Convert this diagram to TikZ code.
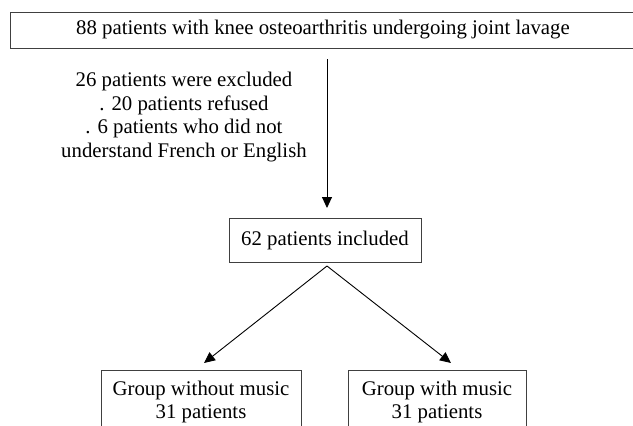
\documentclass[tikz,border=0pt]{standalone}
\usepackage{fontspec}
\setmainfont{Liberation Serif}
\usetikzlibrary{arrows.meta}
\begin{document}
\begin{tikzpicture}[x=1pt,y=-1pt,
  every node/.style={inner sep=0pt, align=center, font=\fontsize{20.8}{23.6}\selectfont},
  box/.style={draw=black!75, line width=0.9pt},
  arr/.style={draw=black, line width=0.9pt, -{Triangle[width=10pt,length=11pt]}}]
\useasboundingbox (0,0) rectangle (633,426);
\node[box, minimum width=626pt, minimum height=36pt] (top) at (323,30) {88 patients with knee osteoarthritis undergoing joint lavage};
\coordinate (a1) at (327,59);
\coordinate (a2) at (327,208);
\draw[arr] (a1) -- (a2);
\node (excl) at (184,117) {26 patients were excluded\\. 20 patients refused\\. 6 patients who did not\\understand French or English};
\node[box, minimum width=192pt, minimum height=44pt] (inc) at (325,240) {62 patients included};
\coordinate (apex) at (327,266);
\coordinate (lt) at (204,363);
\coordinate (rt) at (451,363);
\draw[arr] (apex) -- (lt);
\draw[arr] (apex) -- (rt);
\node[box, minimum width=200pt, minimum height=80pt, anchor=north] (left) at (201,370) {};
\node (lefttxt) at (201,402) {Group without music\\31 patients};
\node[box, minimum width=178pt, minimum height=80pt, anchor=north] (right) at (437,370) {};
\node (righttxt) at (437,402) {Group with music\\31 patients};
\end{tikzpicture}
\end{document}
